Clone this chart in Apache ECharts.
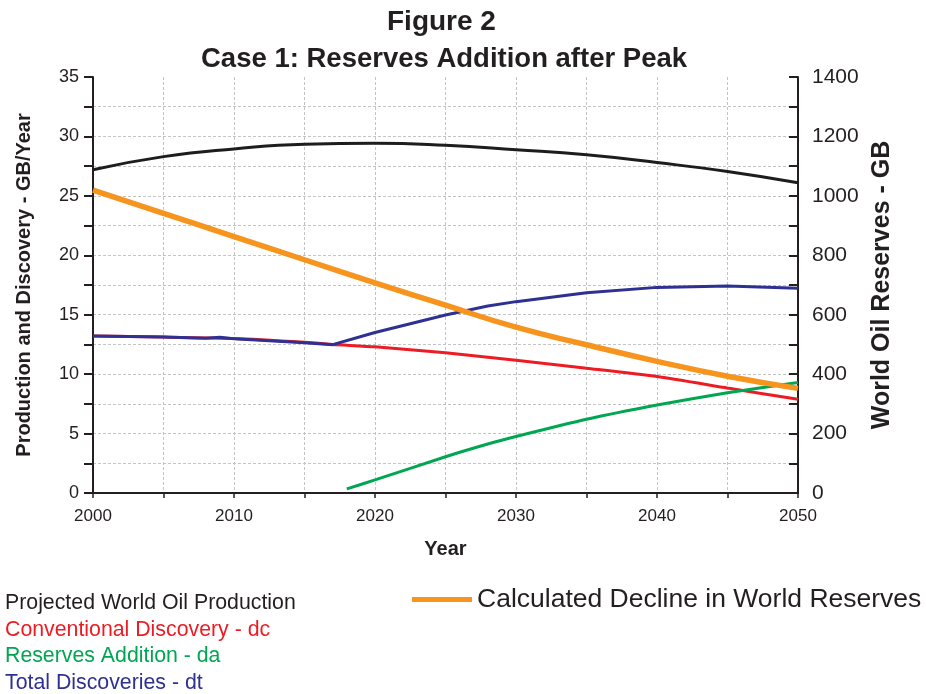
<!DOCTYPE html>
<html>
<head>
<meta charset="utf-8">
<script src="https://cdn.jsdelivr.net/npm/echarts@6/dist/echarts.min.js"></script>
<style>
html,body{margin:0;padding:0;background:#fff;}
#chart{width:926px;height:694px;}
</style>
</head>
<body>
<div id="chart"></div>
<script>
// years
var years5 = [2000, 2005, 2010, 2015, 2020, 2025, 2030, 2035, 2040, 2045, 2050];

// Projected World Oil Production (GB/yr, left axis)
var production = [27.2, 28.3, 28.95, 29.35, 29.42, 29.25, 28.88, 28.45, 27.8, 27.05, 26.1];

// Conventional Discovery - dc
var dcYears = [2000, 2005, 2010, 2015, 2017, 2020, 2025, 2030, 2035, 2040, 2045, 2050];
var dcVals  = [13.2, 13.12, 13.0, 12.68, 12.5, 12.3, 11.8, 11.17, 10.5, 9.8, 8.83, 7.88];

// Reserves Addition - da
var daYears = [2018, 2020, 2025, 2028, 2030, 2035, 2040, 2045, 2050];
var daVals  = [0.35, 1.1, 3.05, 4.12, 4.75, 6.2, 7.4, 8.44, 9.3];

// Total Discoveries - dt
var dtYears = [2000, 2005, 2008, 2009, 2010, 2015, 2017, 2020, 2025, 2028, 2030, 2035, 2040, 2045, 2050];
var dtVals  = [13.2, 13.12, 13.03, 13.1, 12.98, 12.65, 12.48, 13.5, 14.98, 15.73, 16.1, 16.85, 17.3, 17.42, 17.22];

// Calculated Decline in World Reserves (GB, right axis)
var reserves = [1019, 941, 863, 785, 707, 632, 558, 499, 443, 393, 352];

function pairs(xs, ys){
	return xs.map(function(x, i){ return [x, ys[i]]; });
}

var txt = '#231f20';
var font = 'Liberation Sans, Arial, sans-serif';

var dom = document.getElementById('chart');
var myChart = echarts.init(dom, null, {renderer: 'canvas'});

// 15 split lines on the left axis, the top one (35) is not drawn
var hColors = [];
for (var i = 0; i < 14; i++) hColors.push('#c4c4c4');
hColors.push('rgba(0,0,0,0)');

var option = {
	backgroundColor: '#fff',
	animation: false,
	textStyle: {fontFamily: font},
	title: [
		{text: 'Figure 2', left: 382, top: 3,
			textStyle: {fontSize: 28, fontWeight: 'bold', color: txt, fontFamily: font}},
		{text: 'Case 1: Reserves Addition after Peak', left: 196, top: 40,
			textStyle: {fontSize: 27.5, fontWeight: 'bold', color: txt, fontFamily: font}}
	],
	grid: {left: 93, right: 128, top: 77, bottom: 201, containLabel: false},
	legend: [
		{
			orient: 'vertical', left: 0, top: 593, itemGap: 5.5, padding: 0,
			icon: 'rect', itemWidth: 0, itemHeight: 21, selectedMode: false,
			itemStyle: {opacity: 0},
			textStyle: {fontSize: 21.3, fontFamily: font},
			data: [
				{name: 'Projected World Oil Production', textStyle: {color: txt}},
				{name: 'Conventional Discovery - dc', textStyle: {color: '#ed1c24'}},
				{name: 'Reserves Addition - da', textStyle: {color: '#00a651'}},
				{name: 'Total Discoveries - dt', textStyle: {color: '#2e3192'}}
			]
		},
		{
			left: 412, top: 586, padding: 0, icon: 'rect', itemWidth: 60, itemHeight: 5, itemGap: 0,
			selectedMode: false,
			textStyle: {fontSize: 26.5, color: txt, fontFamily: font},
			data: ['Calculated Decline in World Reserves']
		}
	],
	xAxis: {
		type: 'value', min: 2000, max: 2050, interval: 5,
		name: 'Year', nameLocation: 'middle', nameGap: 46,
		nameTextStyle: {fontSize: 20, fontWeight: 'bold', color: txt, fontFamily: font},
		axisLine: {lineStyle: {color: txt, width: 2}},
		axisTick: {length: 5, lineStyle: {color: txt, width: 1.5}},
		axisLabel: {fontSize: 17, color: txt, margin: 15,
			formatter: function(v){ return v % 10 === 0 ? String(v) : ''; }},
		splitLine: {show: true, lineStyle: {color: '#c4c4c4', type: [3, 2], width: 1}}
	},
	yAxis: [
		{
			type: 'value', min: 0, max: 35, interval: 2.5, position: 'left',
			name: 'Production and Discovery - GB/Year', nameLocation: 'middle', nameGap: 59,
			nameRotate: 90,
			nameTextStyle: {fontSize: 20, fontWeight: 'bold', color: txt, fontFamily: font},
			axisLine: {show: true, lineStyle: {color: txt, width: 2}},
			axisTick: {show: true, length: 9, lineStyle: {color: txt, width: 2}},
			axisLabel: {fontSize: 18, color: txt, margin: 14,
				formatter: function(v){ return v % 5 === 0 ? String(v) : ''; }},
			splitLine: {show: true, lineStyle: {color: hColors, type: [3, 2], width: 1}}
		},
		{
			type: 'value', min: 0, max: 1400, interval: 100, position: 'right',
			name: 'World Oil Reserves - GB', nameLocation: 'middle', nameGap: 70,
			nameRotate: 90,
			nameTextStyle: {fontSize: 25, fontWeight: 'bold', color: txt, fontFamily: font},
			axisLine: {show: true, lineStyle: {color: txt, width: 2}},
			axisTick: {show: true, inside: true, length: 9, lineStyle: {color: txt, width: 2}},
			axisLabel: {fontSize: 21, color: txt, margin: 14,
				formatter: function(v){ return v % 200 === 0 ? String(v) : ''; }},
			splitLine: {show: false}
		}
	],
	series: [
		{
			name: 'Projected World Oil Production', type: 'line', yAxisIndex: 0,
			data: pairs(years5, production), smooth: true, showSymbol: false, symbol: 'none',
			lineStyle: {color: '#1d1d1b', width: 3}, itemStyle: {color: '#1d1d1b'}
		},
		{
			name: 'Conventional Discovery - dc', type: 'line', yAxisIndex: 0,
			data: pairs(dcYears, dcVals), smooth: 0.2, symbol: 'none',
			lineStyle: {color: '#ed1c24', width: 3}, itemStyle: {color: '#ed1c24'}
		},
		{
			name: 'Reserves Addition - da', type: 'line', yAxisIndex: 0,
			data: pairs(daYears, daVals), smooth: 0.2, symbol: 'none',
			lineStyle: {color: '#00a651', width: 3}, itemStyle: {color: '#00a651'}
		},
		{
			name: 'Total Discoveries - dt', type: 'line', yAxisIndex: 0,
			data: pairs(dtYears, dtVals), smooth: false, symbol: 'none',
			lineStyle: {color: '#2e3192', width: 3}, itemStyle: {color: '#2e3192'}
		},
		{
			name: 'Calculated Decline in World Reserves', type: 'line', yAxisIndex: 1,
			data: pairs(years5, reserves), smooth: true, symbol: 'none',
			lineStyle: {color: '#f7941d', width: 5.5}, itemStyle: {color: '#f7941d'}
		}
	]
};

if (option && typeof option === 'object') {
	myChart.setOption(option, true);
}
</script>
</body>
</html>
